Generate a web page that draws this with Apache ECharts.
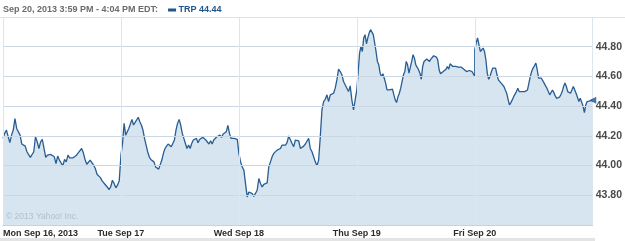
<!DOCTYPE html>
<html>
<head>
<meta charset="utf-8">
<script src="https://cdn.jsdelivr.net/npm/echarts@6/dist/echarts.min.js"></script>
<style>
html,body{margin:0;padding:0;background:#fff;}
#c{width:625px;height:241px;}
</style>
</head>
<body>
<div id="c"></div>
<script>
// ---- data ----
const headerText = 'Sep 20, 2013 3:59 PM - 4:04 PM EDT:';
const seriesName = 'TRP';
const copyrightText = '\u00A9 2013 Yahoo! Inc.';
const dayLabels = ['Mon Sep 16, 2013', 'Tue Sep 17', 'Wed Sep 18', 'Thu Sep 19', 'Fri Sep 20'];
const yTickLabels = ['43.80', '44.00', '44.20', '44.40', '44.60', '44.80'];

const mon = [44.183,44.217,44.239,44.228,44.154,44.205,44.239,44.316,44.250,44.239,44.205,44.145,44.138,44.131,44.093,44.093,44.055,44.059,44.093,44.194,44.160,44.115,44.160,44.176,44.115,44.055,44.070,44.082,44.075,44.070,44.059,44.014,44.064,44.037,44.025,43.998,44.041,44.025,44.070,44.052,44.059,44.052,44.059,44.070,44.086,44.097,44.115,44.086,44.041,44.009,44.003,44.037,44.025,44.003,43.980,43.942,43.946,43.919,43.897,43.883,43.874,43.856,43.838,43.856,43.901,43.879,43.850,43.868,43.897,43.901];
const tue = [44.070,44.149,44.284,44.205,44.228,44.250,44.262,44.311,44.273,44.284,44.307,44.325,44.295,44.273,44.239,44.183,44.138,44.093,44.059,44.041,44.037,44.025,43.991,43.980,43.976,43.980,44.037,44.082,44.115,44.131,44.145,44.138,44.127,44.138,44.172,44.239,44.284,44.311,44.273,44.217,44.183,44.149,44.115,44.138,44.115,44.149,44.172,44.160,44.183,44.154,44.176,44.172,44.190,44.194,44.172,44.172,44.145,44.167,44.145,44.172,44.183,44.194,44.199,44.205,44.190,44.212,44.217,44.228,44.271,44.217,44.183,44.172,44.183,44.183,44.176,44.167];
const wed = [44.082,44.025,43.991,43.969,43.879,43.789,43.822,43.822,43.811,43.793,43.784,43.834,43.913,43.879,43.856,43.874,43.874,43.883,43.991,44.025,44.059,44.082,44.070,44.104,44.115,44.115,44.138,44.149,44.138,44.154,44.199,44.205,44.149,44.127,44.172,44.183,44.167,44.115,44.115,44.131,44.145,44.145,44.183,44.115,44.093,44.059,44.025,43.998,44.037,44.194,44.374,44.431,44.446,44.476,44.431,44.476,44.487,44.487,44.521,44.577,44.649,44.633,44.611,44.566,44.555,44.521,44.498,44.536,44.442,44.374,44.442,44.453];
const thu = [44.509,44.633,44.757,44.802,44.768,44.859,44.881,44.820,44.859,44.892,44.915,44.915,44.881,44.825,44.768,44.701,44.678,44.622,44.600,44.618,44.588,44.555,44.509,44.498,44.509,44.521,44.514,44.476,44.442,44.424,44.464,44.487,44.521,44.566,44.611,44.633,44.701,44.678,44.622,44.633,44.701,44.746,44.723,44.678,44.690,44.645,44.622,44.581,44.667,44.701,44.712,44.717,44.712,44.701,44.717,44.723,44.739,44.750,44.730,44.712,44.645,44.618,44.627,44.633,44.645,44.649,44.667,44.649,44.685,44.672,44.667,44.678,44.667,44.672,44.663,44.656,44.663,44.656,44.649,44.640,44.633,44.622,44.640,44.633,44.633,44.622,44.600];
const fri = [44.780,44.825,44.859,44.814,44.768,44.780,44.791,44.768,44.712,44.622,44.581,44.600,44.633,44.656,44.667,44.656,44.611,44.577,44.566,44.555,44.543,44.532,44.509,44.487,44.446,44.408,44.424,44.442,44.464,44.476,44.498,44.521,44.498,44.509,44.498,44.509,44.498,44.505,44.509,44.555,44.600,44.633,44.656,44.672,44.690,44.645,44.588,44.595,44.588,44.577,44.555,44.536,44.521,44.498,44.476,44.464,44.509,44.491,44.469,44.453,44.451,44.460,44.476,44.498,44.532,44.555,44.532,44.498,44.505,44.487,44.509,44.532,44.521,44.487,44.460,44.431,44.453,44.442,44.401,44.356,44.408,44.431,44.442,44.435,44.446,44.44];

// ---- build ----
const days = [mon, tue, wed, thu, fri];
const lineData = [];
days.forEach((vals, d) => {
  vals.forEach((v, i) => lineData.push([d + i / (vals.length - 1), v]));
});
const last = lineData[lineData.length - 1];

const chart = echarts.init(document.getElementById('c'), null, {renderer: 'canvas'});
const FONT = '"Liberation Sans", Arial, sans-serif';

chart.setOption({
  animation: false,
  backgroundColor: '#ffffff',
  grid: {left: 3, right: 30, top: 17, bottom: 16, containLabel: false},
  xAxis: {
    type: 'value',
    min: 0,
    max: 5,
    interval: 1,
    z: 5,
    axisLine: {show: true, lineStyle: {color: '#c3d3e0', width: 1}},
    axisTick: {show: false},
    splitLine: {show: true, lineStyle: {color: '#dde6ee', width: 1}},
    axisLabel: {
      margin: 4,
      alignMinLabel: 'left',
      showMaxLabel: false,
      fontFamily: FONT,
      fontWeight: 'bold',
      fontSize: 9,
      color: '#2b2b2b',
      formatter: v => dayLabels[Math.round(v)] || ''
    }
  },
  yAxis: {
    type: 'value',
    position: 'right',
    min: 43.6,
    max: 45.0,
    interval: 0.2,
    z: 5,
    axisLine: {show: false},
    axisTick: {show: false},
    splitLine: {show: true, lineStyle: {color: '#cbd8e3', width: 1}},
    axisLabel: {
      margin: 3,
      fontFamily: FONT,
      fontWeight: 'bold',
      fontSize: 10.5,
      color: '#4a4a4a',
      formatter: v => {
        const s = v.toFixed(2);
        return yTickLabels.indexOf(s) >= 0 ? s : '';
      }
    }
  },
  series: [
    {
      type: 'line',
      name: seriesName,
      data: lineData,
      showSymbol: false,
      smooth: false,
      lineStyle: {color: '#275d93', width: 1.3},
      areaStyle: {color: '#d6e5f0', opacity: 1, origin: 'start'},
      z: 2
    },
    {
      type: 'scatter',
      data: [last],
      symbol: 'triangle',
      symbolRotate: 90,
      symbolSize: [7, 7],
      itemStyle: {color: '#1d5086'},
      clip: false,
      z: 6
    }
  ],
  graphic: [
    {type: 'line', shape: {x1: 0, y1: 17.5, x2: 625, y2: 17.5}, style: {stroke: '#dde4ea', lineWidth: 1}, z: 10},
    {type: 'rect', shape: {x: 0, y: 238, width: 595, height: 3}, style: {fill: '#e4e4e4'}},
    {
      type: 'text', z: 10,
      style: {
        x: 3, y: 10, verticalAlign: 'middle',
        text: '{g|' + headerText + '}   {m|}{b| ' + seriesName + ' ' + last[1].toFixed(2) + '}',
        rich: {
          g: {fontFamily: FONT, fontWeight: 'bold', fontSize: 9, fill: '#6b6b6b'},
          m: {width: 8, height: 3, backgroundColor: '#1f558a'},
          b: {fontFamily: FONT, fontWeight: 'bold', fontSize: 9, fill: '#1f558a'}
        }
      }
    },
    {type: 'text', z: 10, style: {x: 6, y: 217, verticalAlign: 'middle', text: copyrightText, fontFamily: FONT, fontSize: 8.5, fill: '#b0c0cc'}}
  ]
});
</script>
</body>
</html>
